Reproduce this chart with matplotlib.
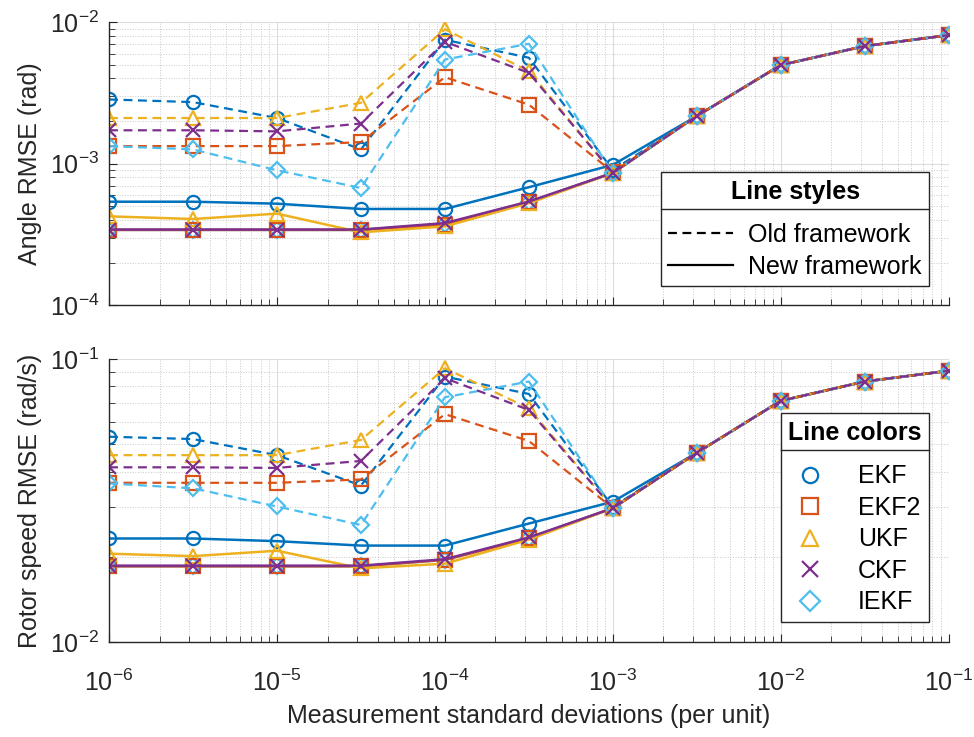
import numpy as np
import matplotlib
matplotlib.use('Agg')
import matplotlib.pyplot as plt
from matplotlib.lines import Line2D

plt.rcParams['font.family'] = ['Liberation Sans', 'DejaVu Sans']
plt.rcParams['mathtext.fontset'] = 'custom'
plt.rcParams['mathtext.rm'] = 'Liberation Sans'
plt.rcParams['mathtext.it'] = 'Liberation Sans:italic'
plt.rcParams['mathtext.bf'] = 'Liberation Sans:bold'

# measurement standard deviations (per unit)
sigma = [1e-6, 10**-5.5, 1e-5, 10**-4.5, 1e-4, 10**-3.5, 1e-3, 10**-2.5, 1e-2, 10**-1.5, 1e-1]

filters = ['EKF', 'EKF2', 'UKF', 'CKF', 'IEKF']
colors = ['#0072BD', '#D95319', '#EDB120', '#7E2F8E', '#4DBEEE']
markers = ['o', 's', '^', 'x', 'D']

# Angle RMSE (rad), old framework
ang_old_ekf  = [2.84e-3, 2.72e-3, 2.10e-3, 1.26e-3, 7.5e-3, 5.6e-3, 9.0e-4, 2.17e-3, 4.97e-3, 6.77e-3, 8.09e-3]
ang_old_ekf2 = [1.33e-3, 1.33e-3, 1.33e-3, 1.42e-3, 4.08e-3, 2.61e-3, 8.7e-4, 2.17e-3, 4.97e-3, 6.77e-3, 8.09e-3]
ang_old_ukf  = [2.10e-3, 2.10e-3, 2.10e-3, 2.69e-3, 8.9e-3, 4.5e-3, 8.6e-4, 2.17e-3, 4.97e-3, 6.77e-3, 8.09e-3]
ang_old_ckf  = [1.72e-3, 1.72e-3, 1.69e-3, 1.92e-3, 7.26e-3, 4.38e-3, 8.6e-4, 2.17e-3, 4.97e-3, 6.77e-3, 8.09e-3]
ang_old_iekf = [1.33e-3, 1.26e-3, 8.97e-4, 6.73e-4, 5.44e-3, 7.03e-3, 8.6e-4, 2.17e-3, 4.97e-3, 6.77e-3, 8.09e-3]

# Angle RMSE (rad), new framework
ang_new_ekf  = [5.38e-4, 5.38e-4, 5.21e-4, 4.78e-4, 4.78e-4, 6.81e-4, 9.8e-4, 2.17e-3, 4.97e-3, 6.77e-3, 8.09e-3]
ang_new_ekf2 = [3.40e-4, 3.40e-4, 3.40e-4, 3.40e-4, 3.70e-4, 5.32e-4, 8.6e-4, 2.17e-3, 4.97e-3, 6.77e-3, 8.09e-3]
ang_new_ukf  = [4.24e-4, 4.06e-4, 4.43e-4, 3.27e-4, 3.60e-4, 5.25e-4, 8.6e-4, 2.17e-3, 4.97e-3, 6.77e-3, 8.09e-3]
ang_new_ckf  = [3.42e-4, 3.42e-4, 3.42e-4, 3.42e-4, 3.80e-4, 5.40e-4, 8.6e-4, 2.17e-3, 4.97e-3, 6.77e-3, 8.09e-3]
ang_new_iekf = [3.40e-4, 3.40e-4, 3.40e-4, 3.40e-4, 3.75e-4, 5.35e-4, 8.6e-4, 2.17e-3, 4.97e-3, 6.77e-3, 8.09e-3]

# Rotor speed RMSE (rad/s), old framework
spd_old_ekf  = [0.0531, 0.0521, 0.0457, 0.0357, 0.0866, 0.0752, 0.0300, 0.0466, 0.0711, 0.0832, 0.0908]
spd_old_ekf2 = [0.0365, 0.0365, 0.0365, 0.0375, 0.0638, 0.0513, 0.0297, 0.0466, 0.0711, 0.0832, 0.0908]
spd_old_ukf  = [0.0457, 0.0457, 0.0457, 0.0517, 0.0927, 0.0669, 0.0297, 0.0466, 0.0711, 0.0832, 0.0908]
spd_old_ckf  = [0.0414, 0.0414, 0.0412, 0.0436, 0.0855, 0.0660, 0.0297, 0.0466, 0.0711, 0.0832, 0.0908]
spd_old_iekf = [0.0363, 0.0349, 0.0301, 0.0259, 0.0732, 0.0832, 0.0297, 0.0466, 0.0711, 0.0832, 0.0908]

# Rotor speed RMSE (rad/s), new framework
spd_new_ekf  = [0.0232, 0.0232, 0.0227, 0.0219, 0.0219, 0.0262, 0.0313, 0.0466, 0.0711, 0.0832, 0.0908]
spd_new_ekf2 = [0.0185, 0.0185, 0.0185, 0.0185, 0.0195, 0.0232, 0.0297, 0.0466, 0.0711, 0.0832, 0.0908]
spd_new_ukf  = [0.0205, 0.0201, 0.0210, 0.0182, 0.0189, 0.0230, 0.0297, 0.0466, 0.0711, 0.0832, 0.0908]
spd_new_ckf  = [0.0186, 0.0186, 0.0186, 0.0186, 0.0196, 0.0234, 0.0297, 0.0466, 0.0711, 0.0832, 0.0908]
spd_new_iekf = [0.0185, 0.0185, 0.0185, 0.0185, 0.0195, 0.0233, 0.0297, 0.0466, 0.0711, 0.0832, 0.0908]

ang_old = [ang_old_ekf, ang_old_ekf2, ang_old_ukf, ang_old_ckf, ang_old_iekf]
ang_new = [ang_new_ekf, ang_new_ekf2, ang_new_ukf, ang_new_ckf, ang_new_iekf]
spd_old = [spd_old_ekf, spd_old_ekf2, spd_old_ukf, spd_old_ckf, spd_old_iekf]
spd_new = [spd_new_ekf, spd_new_ekf2, spd_new_ukf, spd_new_ckf, spd_new_iekf]

fs = 18
axcol = '#262626'

fig = plt.figure(figsize=(9.74, 7.37), dpi=100)
ax1 = fig.add_axes([0.112, 0.586, 0.862, 0.384])
ax2 = fig.add_axes([0.112, 0.129, 0.862, 0.384])

# draw order: new lines (CKF on top), then old dashed lines
order = [4, 0, 1, 2, 3]


def draw(ax, old, new):
    for i in order:
        ax.plot(sigma, new[i], color=colors[i], ls='-', lw=1.8, marker=markers[i],
                ms=9.5 if markers[i] != 'D' else 8.5, mfc='none', mew=1.6)
    for i in [0, 1, 2, 4, 3]:
        ax.plot(sigma, old[i], color=colors[i], ls='--', dashes=(4, 2.5), lw=1.6,
                marker=markers[i], ms=9.5 if markers[i] != 'D' else 8.5, mfc='none', mew=1.6)
    ax.set_xscale('log')
    ax.set_yscale('log')
    ax.set_xlim(1e-6, 1e-1)
    ax.grid(True, which='major', color='#dcdcdc', lw=0.8, ls='-')
    ax.grid(True, which='minor', color='#c8c8c8', lw=0.7, ls=':')
    ax.set_axisbelow(True)
    for s in ['top', 'right']:
        ax.spines[s].set_visible(False)
    for s in ['left', 'bottom']:
        ax.spines[s].set_color(axcol)
        ax.spines[s].set_linewidth(1.0)
    ax.tick_params(which='both', direction='in', colors=axcol, labelsize=fs,
                   top=False, right=False)
    ax.tick_params(which='major', length=6)
    ax.tick_params(which='minor', length=4)
    ax.tick_params(axis='x', which='both', pad=20)
    ax.tick_params(axis='y', which='both', pad=7)
    ax.xaxis.set_major_locator(matplotlib.ticker.LogLocator(base=10, numticks=10))
    ax.xaxis.set_minor_locator(matplotlib.ticker.LogLocator(base=10, subs=np.arange(2, 10), numticks=20))
    ax.yaxis.set_minor_locator(matplotlib.ticker.LogLocator(base=10, subs=np.arange(2, 10), numticks=20))
    ax.yaxis.set_minor_formatter(matplotlib.ticker.NullFormatter())
    ax.xaxis.set_minor_formatter(matplotlib.ticker.NullFormatter())


draw(ax1, ang_old, ang_new)
draw(ax2, spd_old, spd_new)

ax1.set_ylim(1e-4, 1e-2)
ax2.set_ylim(1e-2, 1e-1)
ax1.tick_params(axis='x', labelbottom=False)
ax1.set_ylabel('Angle RMSE (rad)', fontsize=fs, color=axcol, labelpad=6)
ax2.set_ylabel('Rotor speed RMSE (rad/s)', fontsize=fs, color=axcol, labelpad=6)
ax2.set_xlabel('Measurement standard deviations (per unit)', fontsize=fs, color=axcol, labelpad=6)

# legends
style_handles = [Line2D([], [], color='k', ls='--', dashes=(4, 2.5), lw=1.6),
                 Line2D([], [], color='k', ls='-', lw=1.6)]
leg1 = ax1.legend(style_handles, ['Old framework', 'New framework'], loc='lower right',
                  bbox_to_anchor=(0.977, 0.067), borderaxespad=0, fontsize=fs,
                  title='Line styles', title_fontproperties={'weight': 'bold', 'size': fs},
                  fancybox=False, edgecolor='#262626', framealpha=1, handlelength=2.6,
                  handletextpad=0.6, labelspacing=0.3, borderpad=0.3)

color_handles = [Line2D([], [], color=colors[i], ls='none', marker=markers[i],
                        ms=11 if markers[i] != 'D' else 10, mfc='none', mew=1.6)
                 for i in range(len(filters))]
leg2 = ax2.legend(color_handles, filters, loc='lower right',
                  bbox_to_anchor=(0.977, 0.071), borderaxespad=0, fontsize=fs,
                  title='Line colors', title_fontproperties={'weight': 'bold', 'size': fs},
                  fancybox=False, edgecolor='#262626', framealpha=1, handlelength=1.6,
                  handletextpad=1.1, labelspacing=0.3, borderpad=0.3, alignment='center')

for leg in (leg1, leg2):
    leg.get_frame().set_linewidth(1.0)
    leg._legend_box.sep = 14

fig.canvas.draw()
r = fig.canvas.get_renderer()
for leg in (leg1, leg2):
    fb = leg.get_frame().get_window_extent(r)
    tb = leg.get_title().get_window_extent(r)
    yline = tb.y0 - 5
    x0, y0 = fig.transFigure.inverted().transform((fb.x0, yline))
    x1, _ = fig.transFigure.inverted().transform((fb.x1, yline))
    fig.add_artist(Line2D([x0, x1], [y0, y0], color='#262626', lw=1.0, transform=fig.transFigure))

fig.savefig('out.png', dpi=100)
